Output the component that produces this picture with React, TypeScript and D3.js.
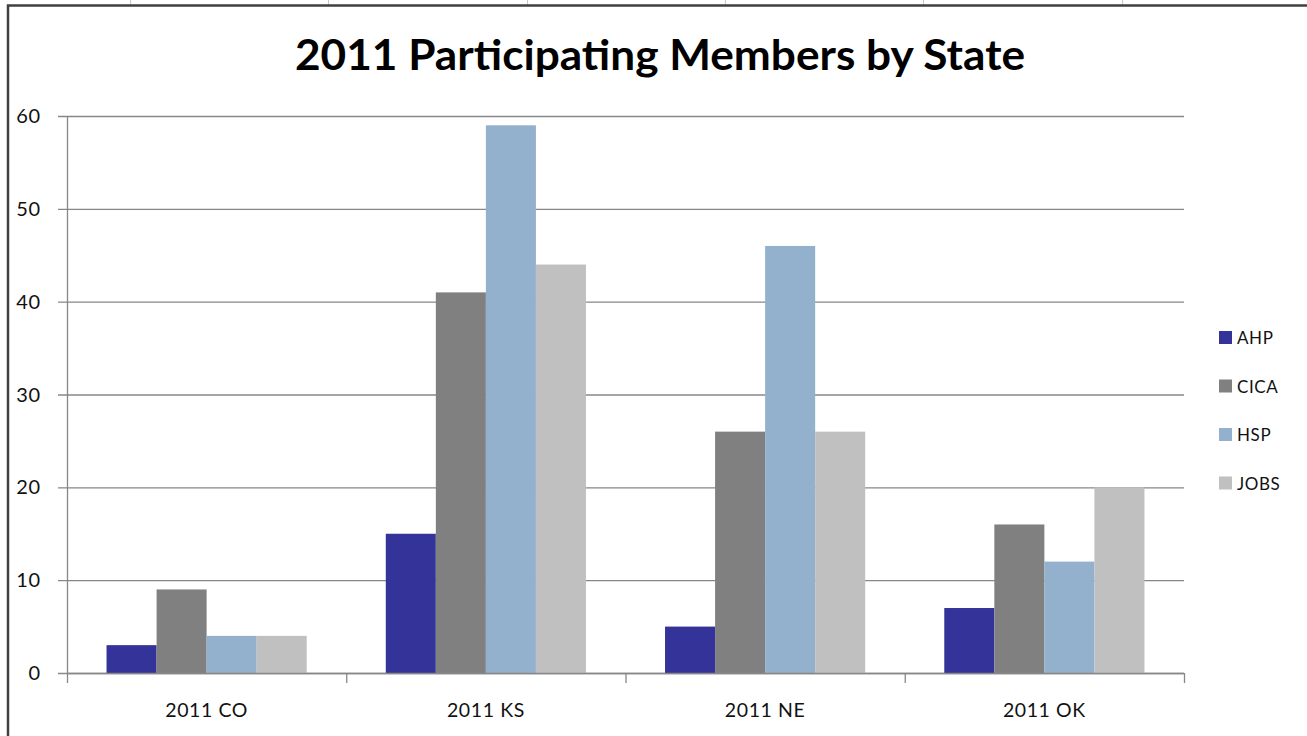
import React from "react"
import * as d3 from "d3"

const categories = ["2011 CO", "2011 KS", "2011 NE", "2011 OK"]
const seriesNames = ["AHP", "CICA", "HSP", "JOBS"]
const ahp = [3, 15, 5, 7]
const cica = [9, 41, 26, 16]
const hsp = [4, 59, 46, 12]
const jobs = [4, 44, 26, 20]
const yTicks = [0, 10, 20, 30, 40, 50, 60]
const colors = ["#333399", "#808080", "#93B1CD", "#C0C0C0"]

const W = 1307
const H = 736
const font = "Lato, 'Open Sans', sans-serif"

export default function App() {
    const values = [ahp, cica, hsp, jobs]

    const x = d3.scaleBand<string>()
        .domain(categories)
        .range([67, 1184])
        .padding(0)

    const inner = d3.scaleBand<string>()
        .domain(seriesNames)
        .range([0, x.bandwidth()])
        .paddingInner(0)
        .paddingOuter(0.79)

    const y = d3.scaleLinear()
        .domain([0, 60])
        .range([673, 116])

    const axisColor = "#878787"
    const boundaries = [...categories.map(c => x(c) as number), 1184]

    return (
        <svg width={W} height={H} style={{ position: "absolute", left: 0, top: 0, background: "#fff" }}>
            {/* spreadsheet cell lines peeking above the chart */}
            {[130, 328, 527, 725, 923, 1122].map(cx => (
                <line key={cx} x1={cx + 0.5} x2={cx + 0.5} y1={0} y2={5} stroke="#c8c8c8" />
            ))}
            <rect x={8} y={5.5} width={W + 20} height={H + 20} fill="#fff" stroke="#404040" strokeWidth={2.5} />

            <text x={660} y={70} textAnchor="middle" fontFamily={font} fontWeight={700}
                fontSize={42} textLength={730} lengthAdjust="spacingAndGlyphs" fill="#000">
                2011 Participating Members by State
            </text>

            {/* gridlines + y ticks */}
            {yTicks.map(t => (
                <g key={t}>
                    <line x1={58} x2={1184} y1={y(t) + 0.5} y2={y(t) + 0.5} stroke={axisColor} strokeWidth={1.3} />
                    <text x={41} y={y(t) + 7} textAnchor="end" fontFamily={font} fontSize={20}
                        letterSpacing={0.8} fill="#111">{t}</text>
                </g>
            ))}
            <line x1={67.5} x2={67.5} y1={116} y2={673} stroke={axisColor} strokeWidth={1.3} />

            {/* bars */}
            {categories.map((c, ci) => (
                <g key={c} transform={`translate(${x(c)},0)`}>
                    {seriesNames.map((s, si) => (
                        <rect key={s}
                            x={inner(s)}
                            width={inner.bandwidth()}
                            y={y(values[si][ci])}
                            height={y(0) - y(values[si][ci])}
                            fill={colors[si]} />
                    ))}
                </g>
            ))}

            {/* x axis */}
            <line x1={67} x2={1184} y1={673.5} y2={673.5} stroke={axisColor} strokeWidth={1.5} />
            {boundaries.map(b => (
                <line key={b} x1={b + 0.5} x2={b + 0.5} y1={673} y2={683} stroke={axisColor} strokeWidth={1.3} />
            ))}
            {categories.map(c => (
                <text key={c} x={(x(c) as number) + x.bandwidth() / 2} y={717} textAnchor="middle"
                    fontFamily={font} fontSize={19.5} letterSpacing={0.6} fill="#111">{c}</text>
            ))}

            {/* legend */}
            {seriesNames.map((s, i) => (
                <g key={s} transform={`translate(1219,${331 + i * 48.5})`}>
                    <rect width={13} height={13} fill={colors[i]} />
                    <text x={18} y={13} fontFamily={font} fontSize={17} letterSpacing={0.6} fill="#111">{s}</text>
                </g>
            ))}
        </svg>
    )
}
